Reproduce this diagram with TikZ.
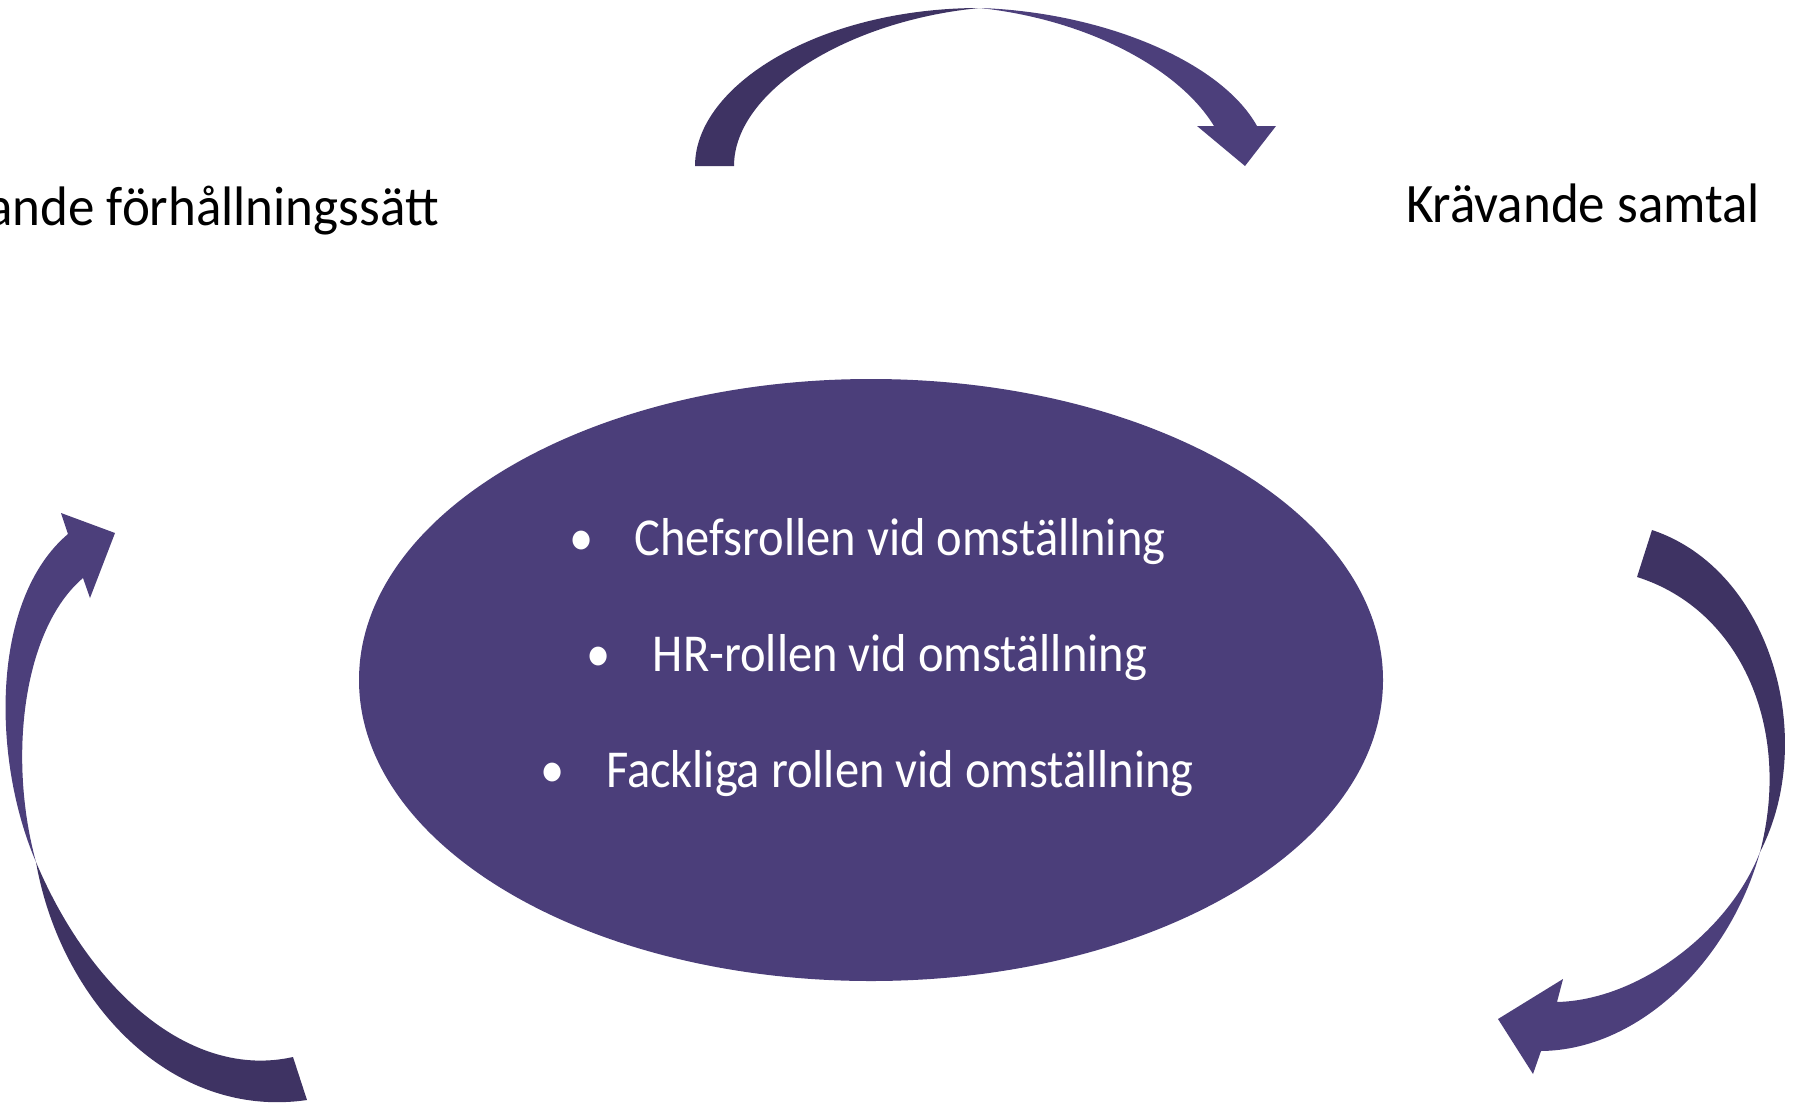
\documentclass[tikz,border=0pt]{standalone}
\usepackage{fontspec}
\setmainfont{Carlito}
\usetikzlibrary{shapes.geometric}

\definecolor{ovalfill}{RGB}{75,62,122}
\definecolor{arrowdark}{RGB}{62,51,99}
\definecolor{arrowlight}{RGB}{76,63,123}

\newcommand{\tallbox}[1]{\scalebox{1}[1.1]{#1}}
\newcommand{\topicbox}[1]{\scalebox{1}[1.05]{#1}}

\tikzset{
    topic/.style={font=\fontsize{53}{63}\selectfont, text=black, inner sep=0pt},
    role/.style={font=\fontsize{48.5}{58}\selectfont, text=white, inner sep=0pt, anchor=base},
    dot/.style={font=\fontsize{48.5}{58}\selectfont, text=white, inner sep=0pt, anchor=base},
}

\begin{document}
\begin{tikzpicture}[x=1pt,y=-1pt]

    \useasboundingbox (0,0) rectangle (1793,1106);
    \clip (0,0) rectangle (1793,1106);

    \node[ellipse, fill=ovalfill, minimum width=1024, minimum height=602, inner sep=0pt] (oval) at (871,680) {};

    \node[role] (chef) at (900,555) {\tallbox{Chefsrollen vid omställning}};
    \node[role] (hr) at (900,671) {\tallbox{HR-rollen vid omställning}};
    \node[role] (fack) at (900,787) {\tallbox{Fackliga rollen vid omställning}};

    \node[dot] (b1) at (582,555) {\tallbox{•}};
    \node[dot] (b2) at (599,671) {\tallbox{•}};
    \node[dot] (b3) at (553,787) {\tallbox{•}};

    \node[topic, anchor=base] (samtal) at (1583,222) {\topicbox{Krävande samtal}};
    \node[topic, anchor=base east] (satt) at (439,225) {\topicbox{ande förhållningssätt}};

    \fill[arrowdark] (695,166) .. controls (695,85) and (820,8) .. (980,8)
        .. controls (850,20) and (734,90) .. (734,166) -- cycle;
    \fill[arrowlight] (980,8) .. controls (1100,12) and (1220,60) .. (1257,126)
        -- (1276,126) -- (1245,166) -- (1197,126) -- (1214,126)
        .. controls (1180,70) and (1090,20) .. (980,8) -- cycle;

    \fill[arrowdark] (1652,530) .. controls (1772,570) and (1818,740) .. (1760,852)
        .. controls (1792,730) and (1742,610) .. (1637,577) -- cycle;
    \fill[arrowlight] (1760,852) .. controls (1730,960) and (1640,1050) .. (1541,1051)
        -- (1533,1074) -- (1498,1019) -- (1563,979) -- (1557,1002)
        .. controls (1640,1000) and (1730,930) .. (1760,852) -- cycle;

    \fill[arrowdark] (36,862) .. controls (60,1000) and (170,1120) .. (307,1100)
        -- (293,1057) .. controls (190,1080) and (90,990) .. (36,862) -- cycle;
    \fill[arrowlight] (36,862) .. controls (-8,760) and (-10,600) .. (68,534)
        -- (61,513) -- (115,533) -- (90,598) -- (83,578)
        .. controls (22,630) and (8,760) .. (36,862) -- cycle;

\end{tikzpicture}
\end{document}
